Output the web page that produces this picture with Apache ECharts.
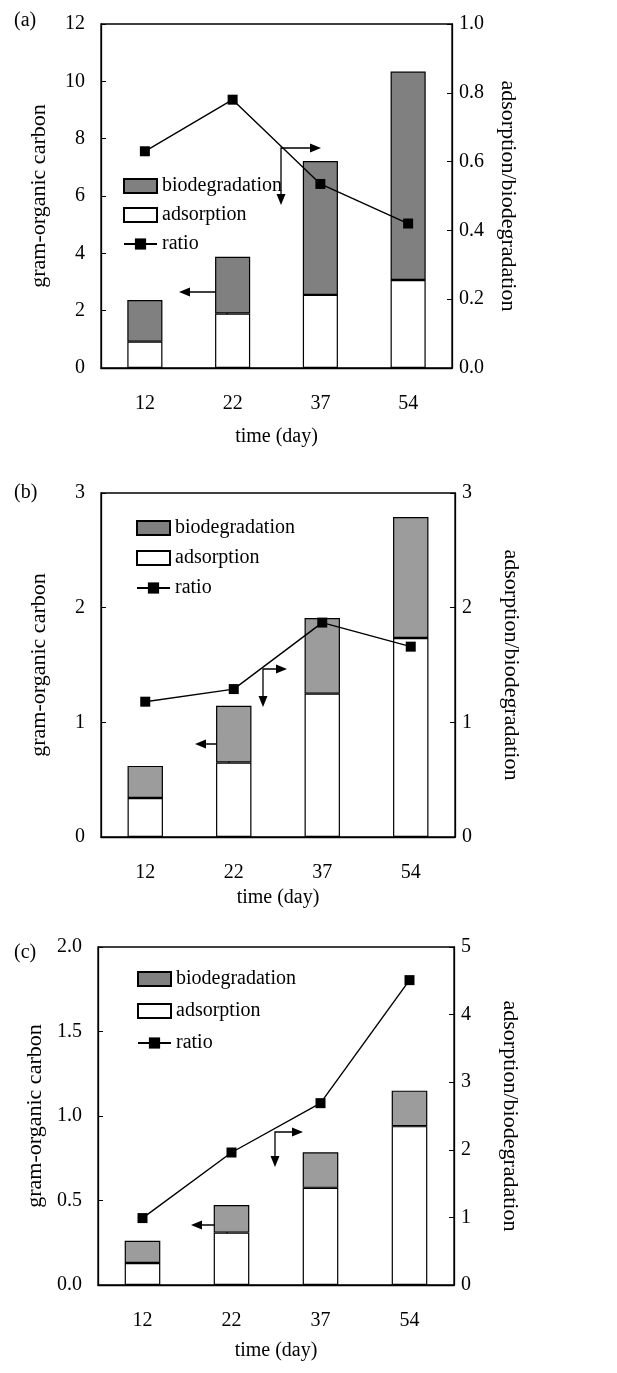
<!DOCTYPE html>
<html>
<head>
<meta charset="utf-8">
<script src="https://cdn.jsdelivr.net/npm/echarts@6/dist/echarts.min.js"></script>
<style>
  html, body { margin: 0; padding: 0; background: #fff; }
  #main { width: 617px; height: 1373px; }
</style>
</head>
<body>
<div id="main"></div>
<script>
// time points (day)
var days = ['12', '22', '37', '54'];

// panel (a)
var adsA = [0.92, 1.90, 2.55, 3.07];
var bioA = [1.45, 1.98, 4.67, 7.27];
var ratioA = [0.63, 0.78, 0.535, 0.42];

// panel (b)
var adsB = [0.34, 0.65, 1.25, 1.735];
var bioB = [0.28, 0.495, 0.66, 1.055];
var ratioB = [1.18, 1.29, 1.87, 1.66];

// panel (c)
var adsC = [0.13, 0.31, 0.575, 0.94];
var bioC = [0.132, 0.163, 0.21, 0.21];
var ratioC = [0.99, 1.96, 2.69, 4.51];

var FONT = 'Liberation Serif';
var myChart = echarts.init(document.getElementById('main'));

var grids = [
    {left: 101, right: 165, top: 24, height: 344},
    {left: 101, right: 162, top: 493, height: 344},
    {left: 98, right: 163, top: 947, height: 338}
];
var leftAxes = [
    {max: 12, interval: 2, dec: 0},
    {max: 3, interval: 1, dec: 0},
    {max: 2, interval: 0.5, dec: 1}
];
var rightAxes = [
    {max: 1, interval: 0.2, dec: 1},
    {max: 3, interval: 1, dec: 0},
    {max: 5, interval: 1, dec: 0}
];
var nameGaps = [59, 51, 56];
var leftNameGaps = [51, 51, 48];
var grays = ['#808080', '#9c9c9c', '#9c9c9c'];
var panels = [
    {ads: adsA, bio: bioA, ratio: ratioA},
    {ads: adsB, bio: bioB, ratio: ratioB},
    {ads: adsC, bio: bioC, ratio: ratioC}
];

var xAxis = [], yAxis = [], series = [], legend = [];
var legendPos = [{left: 123, top: 176, gap: 9}, {left: 136, top: 518, gap: 10}, {left: 137, top: 969, gap: 12}];

for (var i = 0; i < 3; i++) {
    xAxis.push({
        type: 'category', gridIndex: i, data: days,
        name: 'time (day)', nameLocation: 'middle', nameGap: nameGaps[i],
        nameTextStyle: {fontFamily: FONT, fontSize: 20, color: '#000'},
        axisLine: {lineStyle: {color: '#000', width: 1.3}},
        axisTick: {inside: true, length: 6, lineStyle: {color: '#000'}},
        axisLabel: {fontFamily: FONT, fontSize: 20, color: '#000', margin: 26}
    });
    (function (la) {
        yAxis.push({
            type: 'value', gridIndex: i, min: 0, max: la.max, interval: la.interval,
            position: 'left',
            name: 'gram-organic carbon', nameLocation: 'middle', nameGap: leftNameGaps[i],
            nameTextStyle: {fontFamily: FONT, fontSize: 22, color: '#000'},
            axisLine: {show: true, lineStyle: {color: '#000', width: 1.3}},
            axisTick: {show: true, inside: true, length: 5, lineStyle: {color: '#000'}},
            axisLabel: {fontFamily: FONT, fontSize: 20, color: '#000', margin: 16,
                formatter: function (v) { return v.toFixed(la.dec); }},
            splitLine: {show: false}
        });
    })(leftAxes[i]);
    (function (ra) {
        yAxis.push({
            type: 'value', gridIndex: i, min: 0, max: ra.max, interval: ra.interval,
            position: 'right',
            name: 'adsorption/biodegradation', nameLocation: 'middle', nameGap: 45,
            nameRotate: -90,
            nameTextStyle: {fontFamily: FONT, fontSize: 22, color: '#000'},
            axisLine: {show: true, lineStyle: {color: '#000', width: 1.3}},
            axisTick: {show: true, inside: true, length: 5, lineStyle: {color: '#000'}},
            axisLabel: {fontFamily: FONT, fontSize: 20, color: '#000', margin: 7,
                formatter: function (v) { return v.toFixed(ra.dec); }},
            splitLine: {show: false}
        });
    })(rightAxes[i]);

    var p = panels[i];
    series.push({
        name: 'adsorption', type: 'bar', stack: 's' + i,
        xAxisIndex: i, yAxisIndex: i * 2, barWidth: '40%',
        itemStyle: {color: '#fff', borderColor: '#000', borderWidth: 1.2},
        data: p.ads
    });
    series.push({
        name: 'biodegradation', type: 'bar', stack: 's' + i,
        xAxisIndex: i, yAxisIndex: i * 2, barWidth: '40%',
        itemStyle: {color: grays[i], borderColor: '#000', borderWidth: 1.2},
        data: p.bio
    });
    series.push({
        name: 'ratio', type: 'line', xAxisIndex: i, yAxisIndex: i * 2 + 1,
        symbol: 'rect', symbolSize: 10, z: 5,
        lineStyle: {color: '#000', width: 1.4},
        itemStyle: {color: '#000'},
        data: p.ratio
    });
    legend.push({
        left: legendPos[i].left, top: legendPos[i].top, orient: 'vertical',
        padding: 0, itemWidth: 33, itemHeight: 14, itemGap: legendPos[i].gap,
        selectedMode: false,
        textStyle: {fontFamily: FONT, fontSize: 20, color: '#000'},
        data: [{name: 'biodegradation', icon: 'rect'}, {name: 'adsorption', icon: 'rect'}, 'ratio']
    });
}

// L-shaped arrows pointing to the axis each curve belongs to
function arrowL(cx, cy, hx, vy) {
    var dir = hx < cx ? -1 : 1;
    return [
        {type: 'polyline', shape: {points: [[hx - dir * 9, cy], [cx, cy], [cx, vy - 9]]},
            style: {stroke: '#000', lineWidth: 1.3, fill: null}},
        {type: 'polygon', shape: {points: [[hx, cy], [hx - dir * 11, cy - 4.5], [hx - dir * 11, cy + 4.5]]},
            style: {fill: '#000'}},
        {type: 'polygon', shape: {points: [[cx, vy], [cx - 4.5, vy - 11], [cx + 4.5, vy - 11]]},
            style: {fill: '#000'}}
    ];
}

var graphic = [
    {type: 'text', left: 14, top: 11, style: {text: '(a)', font: '20px ' + FONT, fill: '#000'}},
    {type: 'text', left: 14, top: 483, style: {text: '(b)', font: '20px ' + FONT, fill: '#000'}},
    {type: 'text', left: 14, top: 943, style: {text: '(c)', font: '20px ' + FONT, fill: '#000'}}
];
graphic = graphic
    .concat(arrowL(227, 292, 179, 350)).concat(arrowL(281, 148, 321, 205))
    .concat(arrowL(229, 744, 195, 800)).concat(arrowL(263, 669, 287, 707))
    .concat(arrowL(227, 1225, 191, 1267)).concat(arrowL(275, 1132, 303, 1167));

var option = {
    backgroundColor: '#fff',
    animation: false,
    grid: grids.map(function (g) {
        return {left: g.left, right: g.right, top: g.top, height: g.height,
            show: true, borderColor: '#000', borderWidth: 1.3, backgroundColor: 'transparent'};
    }),
    legend: legend,
    xAxis: xAxis,
    yAxis: yAxis,
    series: series,
    graphic: graphic
};
myChart.setOption(option);
</script>
</body>
</html>
